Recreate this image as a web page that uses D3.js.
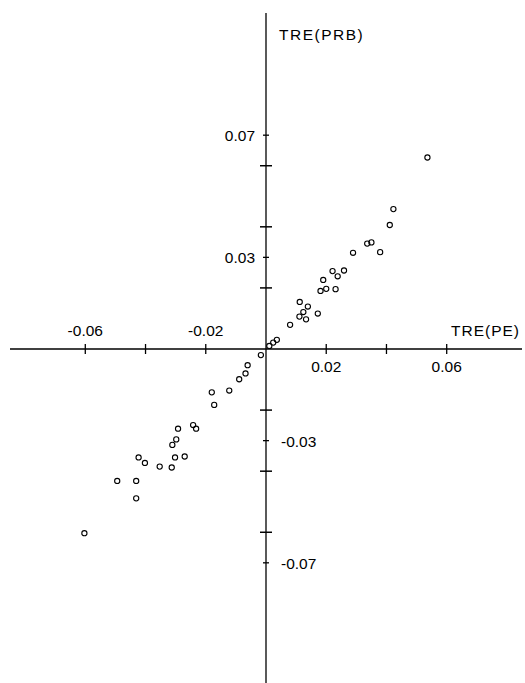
<!DOCTYPE html>
<html>
<head>
<meta charset="utf-8">
<script src="https://cdn.jsdelivr.net/npm/d3@7"></script>
<style>
  html, body { margin: 0; padding: 0; background: #fff; }
  svg { display: block; }
</style>
</head>
<body>
<script>
// TRE(PE) vs TRE(PRB)
const trePE = [
  -0.0017, -0.0061, -0.0068, -0.0089, -0.0122, -0.0180, -0.0172, -0.0242,
  -0.0232, -0.0292, -0.0298, -0.0311, -0.0302, -0.0270, -0.0313, -0.0353,
  -0.0423, -0.0402, -0.0431, -0.0494, -0.0431, -0.0603,
  0.0011, 0.0024, 0.0036, 0.0080, 0.0111, 0.0133, 0.0124, 0.0139,
  0.0112, 0.0172, 0.0181, 0.0200, 0.0231, 0.0190, 0.0238, 0.0221,
  0.0259, 0.0289, 0.0336, 0.0350, 0.0379, 0.0411, 0.0423, 0.0536
];
const trePRB = [
  -0.0020, -0.0053, -0.0080, -0.0099, -0.0136, -0.0142, -0.0183, -0.0249,
  -0.0261, -0.0261, -0.0296, -0.0314, -0.0355, -0.0352, -0.0388, -0.0385,
  -0.0355, -0.0373, -0.0432, -0.0432, -0.0489, -0.0603,
  0.0010, 0.0021, 0.0030, 0.0079, 0.0106, 0.0097, 0.0121, 0.0139,
  0.0154, 0.0116, 0.0190, 0.0197, 0.0196, 0.0226, 0.0238, 0.0255,
  0.0257, 0.0315, 0.0345, 0.0349, 0.0317, 0.0406, 0.0458, 0.0627
];

const xTicks = [-0.06, -0.04, -0.02, 0.02, 0.04, 0.06];
const xLabelsAbove = [-0.06, -0.02];
const xLabelsBelow = [0.02, 0.06];
const yTicks = [-0.06, -0.04, -0.02, 0.02, 0.04, 0.06];
const yLabelsLeft = [0.07, 0.03];
const yLabelsRight = [-0.03, -0.07];

const width = 525, height = 683;

const x = d3.scaleLinear().domain([-0.085, 0.085]).range([10, 522]);
const y = d3.scaleLinear().domain([-0.11, 0.11]).range([685, 13]);

const svg = d3.select("body").append("svg")
    .attr("width", width)
    .attr("height", height)
    .attr("font-family", "'Liberation Sans', Arial, sans-serif")
    .attr("font-size", 15.5);

const fmt = d => d3.format(".2f")(d).replace("−", "-");

// axes
svg.append("line")
    .attr("x1", x(-0.085)).attr("x2", x(0.085))
    .attr("y1", y(0)).attr("y2", y(0))
    .attr("stroke", "#000").attr("stroke-width", 1.5);

svg.append("line")
    .attr("x1", x(0)).attr("x2", x(0))
    .attr("y1", y(0.11)).attr("y2", y(-0.11))
    .attr("stroke", "#000").attr("stroke-width", 1.3);

// x ticks cross the axis
svg.append("g")
    .attr("stroke", "#000").attr("stroke-width", 1.3)
  .selectAll("line")
  .data(xTicks)
  .join("line")
    .attr("x1", d => x(d)).attr("x2", d => x(d))
    .attr("y1", y(0) - 5).attr("y2", y(0) + 5);

// y ticks: long at even steps, short at labelled ones
svg.append("g")
    .attr("stroke", "#000").attr("stroke-width", 1.5)
  .selectAll("line")
  .data(yTicks)
  .join("line")
    .attr("x1", x(0) - 6).attr("x2", x(0) + 6)
    .attr("y1", d => y(d)).attr("y2", d => y(d));

svg.append("g")
    .attr("stroke", "#000").attr("stroke-width", 1.3)
  .selectAll("line")
  .data(yLabelsLeft.concat(yLabelsRight))
  .join("line")
    .attr("x1", x(0) - 3).attr("x2", x(0) + 3)
    .attr("y1", d => y(d)).attr("y2", d => y(d));

// tick labels
svg.append("g")
    .attr("text-anchor", "middle")
  .selectAll("text")
  .data(xLabelsAbove)
  .join("text")
    .attr("x", d => x(d))
    .attr("y", y(0) - 13)
    .text(d => "-" + fmt(-d));

svg.append("g")
    .attr("text-anchor", "middle")
  .selectAll("text")
  .data(xLabelsBelow)
  .join("text")
    .attr("x", d => x(d))
    .attr("y", y(0) + 23)
    .text(fmt);

svg.append("g")
    .attr("text-anchor", "end")
  .selectAll("text")
  .data(yLabelsLeft)
  .join("text")
    .attr("x", x(0) - 11)
    .attr("y", d => y(d) + 6)
    .text(fmt);

svg.append("g")
    .attr("text-anchor", "start")
  .selectAll("text")
  .data(yLabelsRight)
  .join("text")
    .attr("x", x(0) + 15)
    .attr("y", d => y(d) + 6)
    .text(d => "-" + fmt(-d));

// axis titles
svg.append("text")
    .attr("x", 520).attr("y", y(0) - 13)
    .attr("text-anchor", "end")
    .attr("letter-spacing", 1)
    .text("TRE(PE)");

svg.append("text")
    .attr("x", 279).attr("y", 40)
    .attr("letter-spacing", 1.5)
    .text("TRE(PRB)");

// points
svg.append("g")
    .attr("fill", "none")
    .attr("stroke", "#000")
    .attr("stroke-width", 1.1)
  .selectAll("circle")
  .data(d3.range(trePE.length))
  .join("circle")
    .attr("cx", i => x(trePE[i]))
    .attr("cy", i => y(trePRB[i]))
    .attr("r", 2.6);
</script>
</body>
</html>
